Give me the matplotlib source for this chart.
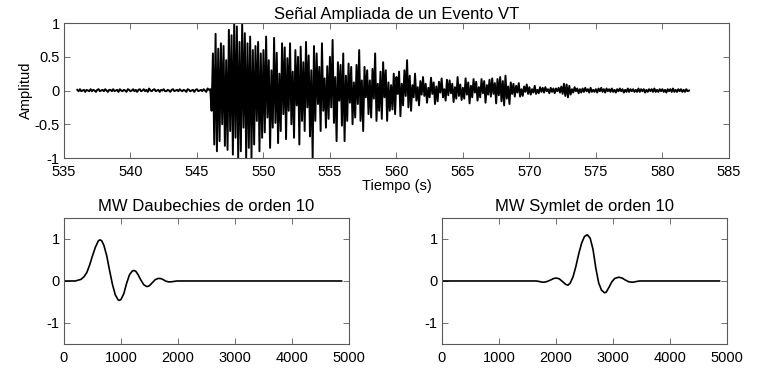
import numpy as np
import matplotlib.pyplot as plt

plt.rcParams['font.family'] = ['Liberation Sans', 'DejaVu Sans']
plt.rcParams['font.size'] = 10.5

# VT event amplitude, one value every 0.1 s starting at 536.0 s
t_start = 536.0
dt = 0.1
pre_event = [
    0.01, -0.01, 0.02, -0.01, 0.00, 0.01, -0.02, 0.01, 0.00, -0.01,
    0.02, -0.01, 0.01, 0.00, -0.02, 0.01, 0.02, -0.01, 0.00, 0.01,
    -0.01, 0.02, 0.00, -0.02, 0.01, 0.01, -0.01, 0.02, -0.01, 0.00,
    0.01, -0.02, 0.02, 0.00, -0.01, 0.01, 0.00, -0.02, 0.02, 0.01,
    -0.01, 0.00, 0.02, -0.01, 0.01, -0.02, 0.01, 0.02, -0.01, 0.00,
    0.02, -0.01, 0.01, -0.02, 0.03, 0.00, -0.01, 0.01, 0.02, -0.01,
    0.00, 0.01, -0.02, 0.01, 0.00, 0.02, -0.01, -0.01, 0.01, 0.00,
    -0.02, 0.01, 0.02, -0.01, 0.00, 0.01, -0.01, 0.02, 0.00, -0.01,
    0.01, 0.00, -0.02, 0.02, 0.01, -0.01, 0.00, 0.01, -0.02, 0.01,
    0.02, -0.01, 0.00, 0.01, -0.01, 0.02, 0.00, -0.02, 0.03, 0.01,
]
strong_phase = [
    0.02, -0.30, 0.55, -0.80, 0.84, -0.90, 0.62, -0.75, 0.70, -0.50,
    0.66, -0.82, 0.45, -0.88, 0.90, -0.60, 0.82, -0.95, 0.99, -0.70,
    0.95, -1.00, 0.72, -0.90, 0.98, -0.55, 0.85, -1.00, 0.70, -0.85,
    0.80, -1.00, 0.60, -0.80, 0.66, -0.45, 0.72, -0.90, 0.55, -0.70,
    0.60, -0.62, 0.80, -0.40, 0.45, -0.85, 0.30, -0.55, 0.78, -0.48,
    0.56, -0.78, 0.25, -0.60, 0.70, -0.35, 0.64, -0.72, 0.48, -0.30,
    0.70, -0.50, 0.28, -0.70, 0.60, -0.22, 0.50, -0.80, 0.65, -0.45,
    0.42, -0.60, 0.72, -0.25, 0.52, -0.68, 0.30, -1.00, 0.66, -0.45,
    0.55, -0.20, 0.35, -0.60, 0.70, -0.30, 0.18, -0.55, 0.36, -0.42,
    0.50, -0.25, 0.75, -0.48, 0.20, -0.75, 0.42, -0.15, 0.38, -0.52,
]
coda = [
    0.55, -0.75, 0.22, -0.45, 0.40, -0.18, 0.35, -0.50, 0.12, -0.40,
    0.38, -0.20, 0.60, -0.45, 0.15, -0.60, 0.35, -0.10, 0.30, -0.35,
    0.15, -0.40, 0.32, -0.12, 0.55, -0.45, 0.10, -0.30, 0.28, -0.42,
    0.42, -0.10, 0.30, -0.45, 0.12, -0.30, 0.08, -0.28, 0.25, -0.35,
    0.20, -0.05, 0.28, -0.38, 0.10, -0.22, 0.30, -0.08, 0.45, -0.25,
    0.22, -0.30, 0.08, -0.10, 0.25, -0.15, 0.05, -0.22, 0.14, -0.06,
    0.20, -0.08, 0.10, -0.18, 0.04, -0.10, 0.19, -0.05, 0.12, -0.20,
    0.06, -0.16, 0.13, -0.03, 0.18, -0.10, 0.02, -0.15, 0.16, -0.07,
    0.15, -0.04, 0.10, -0.17, 0.05, -0.12, 0.20, -0.08, 0.09, -0.14,
    0.04, -0.12, 0.18, -0.06, 0.12, -0.19, 0.07, -0.10, 0.17, -0.03,
]
late_coda = [
    0.13, -0.15, 0.05, -0.10, 0.17, -0.04, 0.14, -0.18, 0.08, -0.06,
    0.16, -0.09, 0.18, -0.05, 0.11, -0.19, 0.17, -0.07, 0.20, -0.16,
    0.14, -0.22, 0.22, -0.12, 0.06, -0.20, 0.12, -0.05, 0.10, -0.09,
    0.07, -0.03, 0.11, -0.09, 0.02, -0.08, 0.06, -0.02, 0.09, -0.05,
    0.05, -0.06, 0.02, -0.03, 0.07, -0.05, 0.01, -0.04, 0.05, -0.02,
    0.04, -0.03, 0.05, -0.01, 0.02, -0.04, 0.04, -0.02, 0.03, -0.04,
    0.03, -0.01, 0.04, -0.03, 0.06, -0.05, 0.10, -0.08, 0.09, -0.10,
    0.07, -0.06, 0.02, -0.03, 0.05, -0.01, 0.03, -0.04, 0.02, -0.03,
    0.03, -0.02, 0.04, -0.01, 0.02, -0.03, 0.04, -0.02, 0.01, -0.02,
    0.02, -0.03, 0.03, -0.01, 0.04, -0.02, 0.02, -0.03, 0.03, -0.01,
    0.02, -0.02, 0.03, -0.02, 0.01, -0.03, 0.02, -0.01, 0.03, -0.01,
    0.02, -0.03, 0.01, -0.02, 0.03, -0.02, 0.02, -0.01, 0.02, -0.02,
    0.01, -0.02, 0.03, -0.02, 0.02, -0.01, 0.02, -0.03, 0.01, -0.02,
    0.02, -0.01, 0.02, -0.02, 0.03, -0.02, 0.01, -0.02, 0.02, -0.01,
    0.02, -0.02, 0.01, -0.03, 0.02, -0.01, 0.02, -0.02, 0.03, -0.02,
    0.01, -0.02, 0.02, -0.01, 0.02, -0.02, 0.01, -0.02, 0.02, -0.01,
    0.00,
]

# mother wavelets
db10_x = [0, 200, 300, 350, 400, 450, 500, 550, 600, 630, 660, 700, 750, 800,
          850, 900, 950, 975, 1000, 1050, 1100, 1150, 1200, 1230, 1260, 1300,
          1350, 1400, 1450, 1470, 1500, 1550, 1600, 1650, 1690, 1730, 1780,
          1830, 1880, 1930, 1980, 2000, 4870]
db10_y = [0, 0.0, 0.04, 0.1, 0.2, 0.38, 0.6, 0.8, 0.95, 0.98, 0.96, 0.85, 0.6, 0.25,
          -0.08, -0.33, -0.45, -0.46, -0.44, -0.3, -0.05, 0.15, 0.24, 0.25, 0.23, 0.15,
          0.02, -0.09, -0.13, -0.13, -0.11, -0.04, 0.03, 0.06, 0.06, 0.04, 0.0,
          -0.02, -0.02, -0.01, 0, 0, 0]
sym10_x = [0, 1650, 1700, 1770, 1830, 1900, 1960, 2010, 2060, 2120, 2170, 2210,
           2250, 2300, 2350, 2400, 2450, 2500, 2550, 2600, 2650, 2700, 2750, 2800,
           2850, 2880, 2930, 2980, 3030, 3100, 3160, 3220, 3280, 3350, 3420, 3470, 4870]
sym10_y = [0, 0, -0.01, -0.03, -0.02, 0.02, 0.06, 0.07, 0.05, -0.02, -0.08, -0.1,
           -0.05, 0.1, 0.35, 0.65, 0.9, 1.06, 1.1, 1.02, 0.75, 0.3, -0.05, -0.22,
           -0.28, -0.27, -0.15, -0.02, 0.06, 0.09, 0.07, 0.02, -0.02, -0.03, -0.01, 0, 0]

signal = np.array(pre_event + strong_phase + coda + late_coda)
t = t_start + dt * np.arange(len(signal))

frame = '0.35'


def style(ax):
    for s in ax.spines.values():
        s.set_color(frame)
        s.set_linewidth(0.8)
    ax.tick_params(direction='in', top=True, right=True, length=4, width=0.6,
                   color=frame, labelsize=10.5)
    ax.tick_params(axis='x', pad=5)
    ax.tick_params(axis='y', pad=3)


fig = plt.figure(figsize=(7.59, 3.78), dpi=100)

ax1 = fig.add_axes([0.0843, 0.582, 0.876, 0.357])
ax1.plot(t, signal, color='black', linewidth=1.4)
ax1.set_xlim(535, 585)
ax1.set_ylim(-1, 1)
ax1.set_xticks(np.arange(535, 586, 5))
ax1.set_yticks([-1, -0.5, 0, 0.5, 1])
ax1.set_yticklabels(['-1', '-0.5', '0', '0.5', '1'])
ax1.set_title('Señal Ampliada de un Evento VT', fontsize=12, pad=3)
ax1.set_xlabel('Tiempo (s)', labelpad=0)
ax1.set_ylabel('Amplitud', labelpad=1)
style(ax1)

ax2 = fig.add_axes([0.0843, 0.09, 0.3755, 0.3333])
ax2.plot(db10_x, db10_y, color='black', linewidth=1.2)
ax2.set_title('MW Daubechies de orden 10', fontsize=12, pad=5)

ax3 = fig.add_axes([0.5823, 0.09, 0.3755, 0.3333])
ax3.plot(sym10_x, sym10_y, color='black', linewidth=1.2)
ax3.set_title('MW Symlet de orden 10', fontsize=12, pad=5)

for ax in (ax2, ax3):
    ax.set_xlim(0, 5000)
    ax.set_ylim(-1.5, 1.5)
    ax.set_xticks(np.arange(0, 5001, 1000))
    ax.set_yticks([-1, 0, 1])
    ax.set_yticklabels(['-1', '0', '1'])
    style(ax)

fig.savefig('out.png', dpi=100)
